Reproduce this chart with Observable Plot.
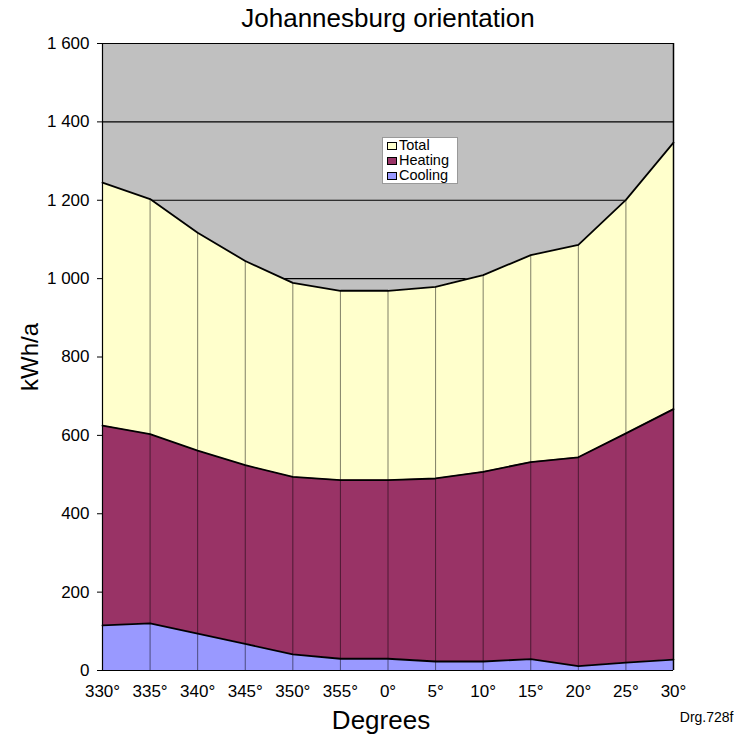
<!DOCTYPE html>
<html>
<head>
<meta charset="utf-8">
<script src="https://cdn.jsdelivr.net/npm/d3@7"></script>
<script src="https://cdn.jsdelivr.net/npm/@observablehq/plot@0.6"></script>
<style>
  body { margin: 0; background: #fff; }
  #wrap { position: relative; width: 734px; height: 738px; font-family: "Liberation Sans", Arial, sans-serif; }
  #legend { position: absolute; left: 382px; top: 137px; width: 76px; height: 47px; background: #fff; border: 1px solid #999; font-size: 14.5px; line-height: 15px; box-sizing: border-box; padding: 0 0 0 4px; }
  #legend div { display: flex; align-items: center; height: 15px; }
  #legend span.sw { display: inline-block; width: 8px; height: 6px; border: 1px solid #000; margin-right: 2px; }
</style>
</head>
<body>
<div id="wrap"></div>
<script>
const labels = ["330°","335°","340°","345°","350°","355°","0°","5°","10°","15°","20°","25°","30°"];
const total   = [1245,1203,1117,1045,989,969,969,979,1009,1060,1086,1201,1347];
const heating = [625,603,561,524,494,486,486,490,507,532,544,605,667];
const cooling = [115,120,94,68,41,30,30,23,23,29,11,20,28];
const yTicks = [0,200,400,600,800,1000,1200,1400,1600];
const seriesNames = ["Total","Heating","Cooling"];
const seriesColors = ["#ffffcc","#993366","#9999ff"];

const rows = labels.map((l, i) => ({i, label: l, total: total[i], heating: heating[i], cooling: cooling[i]}));
const fmt = d => d >= 1000 ? d3.format(",")(d).replace(",", " ") : String(d);

const chart = Plot.plot({
  width: 734,
  height: 738,
  marginTop: 43,
  marginBottom: 68,
  marginLeft: 102,
  marginRight: 61,
  style: {fontFamily: '"Liberation Sans", Arial, sans-serif', background: "#fff"},
  x: {type: "linear", domain: [0, labels.length - 1], axis: null},
  y: {domain: [0, 1600], axis: null},
  marks: [
    Plot.frame({fill: "#c0c0c0", stroke: null}),
    Plot.ruleY(yTicks.filter(d => d > 0), {stroke: "#000", strokeWidth: 1.2}),
    Plot.areaY(rows, {x: "i", y: "total", fill: seriesColors[0]}),
    Plot.areaY(rows, {x: "i", y: "heating", fill: seriesColors[1]}),
    Plot.areaY(rows, {x: "i", y: "cooling", fill: seriesColors[2]}),
    Plot.ruleX(rows, {x: "i", y1: 0, y2: "total", stroke: "#000", strokeOpacity: 0.5, strokeWidth: 1}),
    Plot.lineY(rows, {x: "i", y: "total", stroke: "#000", strokeWidth: 1.8}),
    Plot.lineY(rows, {x: "i", y: "heating", stroke: "#000", strokeWidth: 1.8}),
    Plot.lineY(rows, {x: "i", y: "cooling", stroke: "#000", strokeWidth: 1.8}),
    Plot.ruleX([0], {stroke: "#000", strokeWidth: 1.2}),
    Plot.ruleX([labels.length - 1], {stroke: "#000", strokeWidth: 1.5}),
    Plot.ruleY([0], {stroke: "#000", strokeWidth: 1.2}),
    Plot.axisY({ticks: yTicks, tickFormat: fmt, tickSize: 5, tickPadding: 8, fontSize: 17, label: null, stroke: "#000", color: "#000"}),
    Plot.axisX({ticks: d3.range(labels.length), tickFormat: i => labels[i], tickSize: 0, tickPadding: 14, fontSize: 17, label: null, color: "#000"}),
    Plot.text(["Johannesburg orientation"], {frameAnchor: "top", lineAnchor: "middle", dy: -25, fontSize: 26, fill: "#000"}),
    Plot.text(["kWh/a"], {frameAnchor: "left", textAnchor: "middle", rotate: -90, dx: -72, fontSize: 24, fill: "#000"}),
    Plot.text(["Degrees"], {frameAnchor: "bottom", lineAnchor: "middle", dx: -7, dy: 50, fontSize: 26, fill: "#000"}),
    Plot.text(["Drg.728f"], {frameAnchor: "bottom-right", textAnchor: "end", lineAnchor: "middle", dx: 60, dy: 47, fontSize: 14, fill: "#000"})
  ]
});

const wrap = document.getElementById("wrap");
wrap.appendChild(chart);
const leg = document.createElement("div");
leg.id = "legend";
seriesNames.forEach((n, k) => {
  const row = document.createElement("div");
  const sw = document.createElement("span");
  sw.className = "sw";
  sw.style.background = seriesColors[k];
  row.appendChild(sw);
  row.appendChild(document.createTextNode(n));
  leg.appendChild(row);
});
wrap.appendChild(leg);
</script>
</body>
</html>
